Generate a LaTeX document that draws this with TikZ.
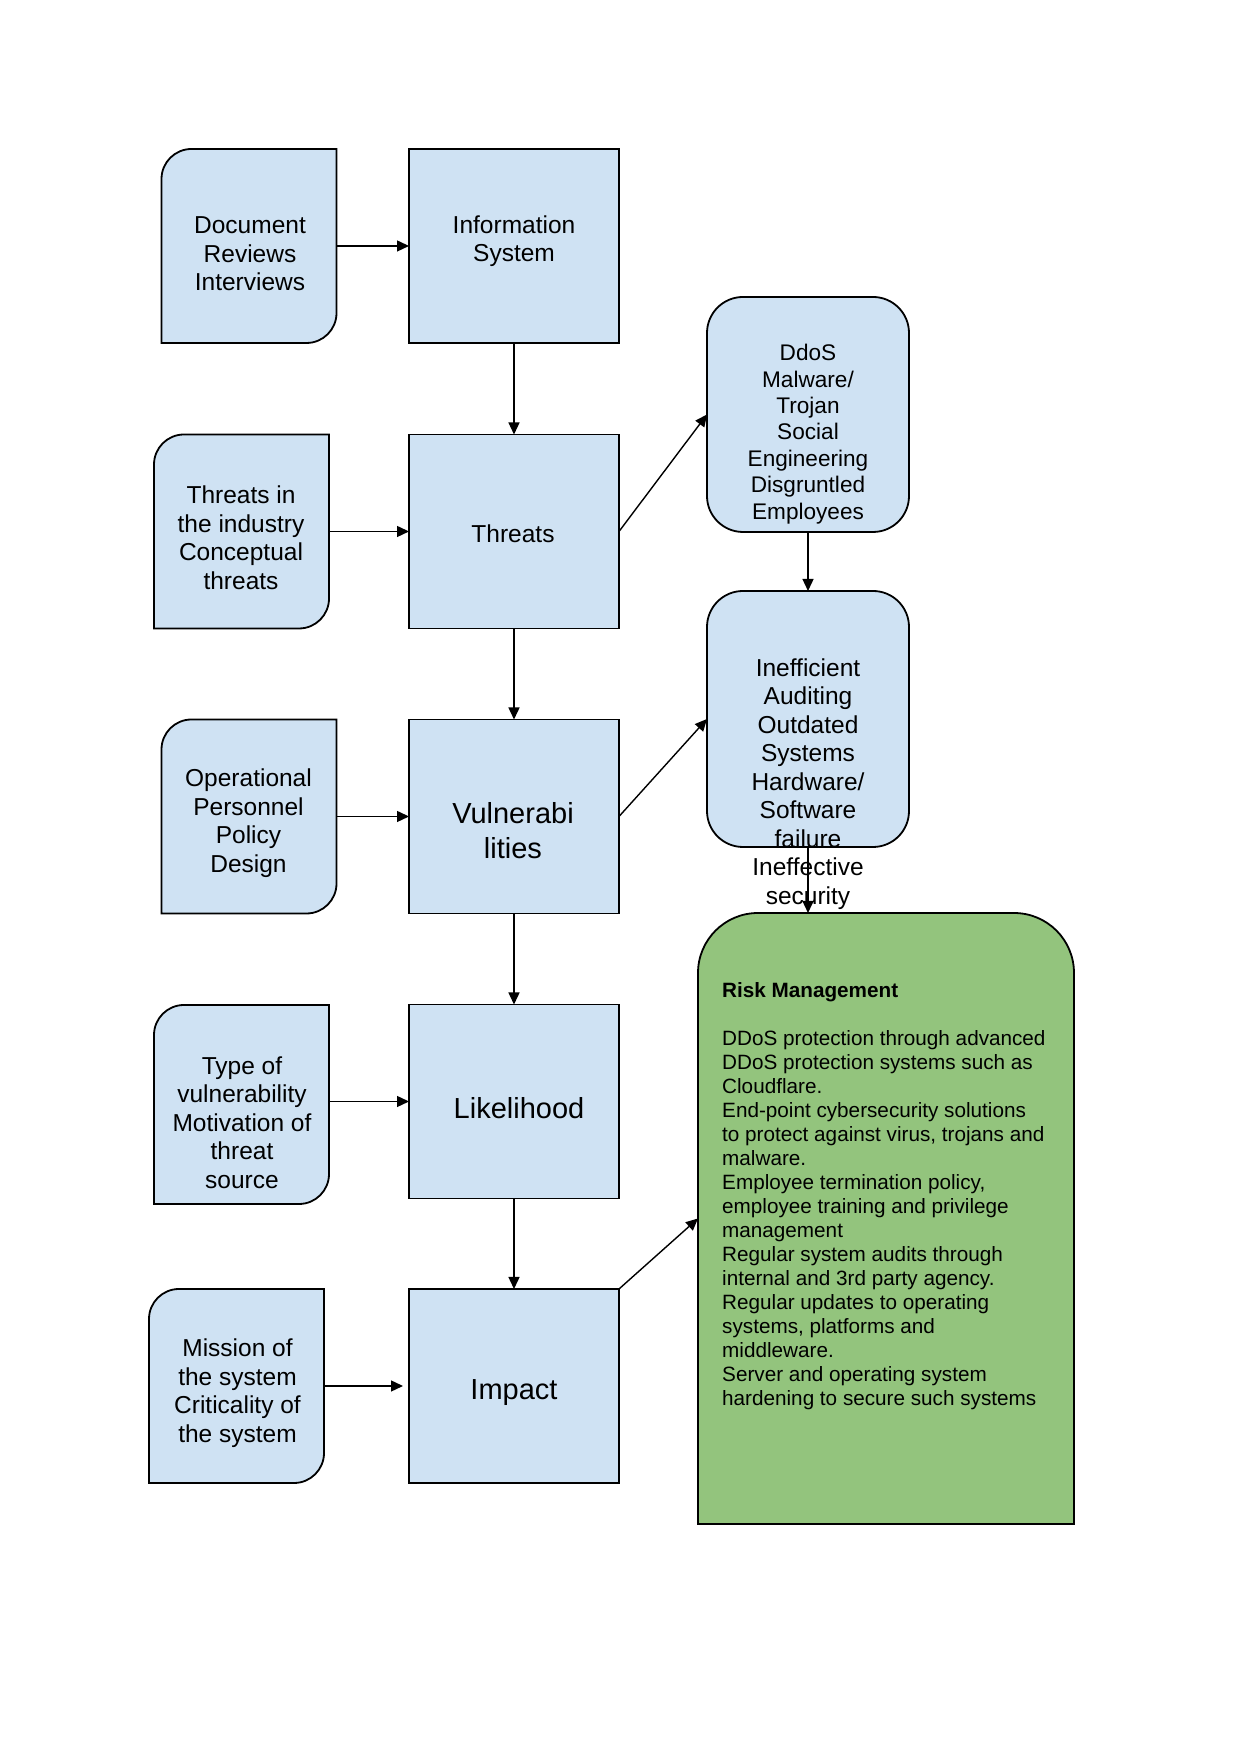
\documentclass[tikz,border=0pt]{standalone}
\usepackage{fontspec}
\setmainfont{Liberation Sans}
\usetikzlibrary{arrows.meta, positioning}
\definecolor{boxblue}{RGB}{207,226,243}
\definecolor{riskgreen}{RGB}{147,196,125}

\begin{document}
\begin{tikzpicture}[x=1pt, y=1pt,
    box/.style={draw, line width=1.8pt, fill=boxblue, minimum width=210pt, minimum height=194pt, outer sep=0pt},
    tab/.style={minimum width=175pt, minimum height=194pt, outer sep=0pt, inner sep=0pt},
    tabline/.style={draw, line width=1.8pt, fill=boxblue},
    txt/.style={align=center, inner sep=0pt, font=\fontsize{24.5}{28.5}\selectfont},
    bigtxt/.style={align=center, inner sep=0pt, font=\fontsize{29}{34.5}\selectfont},
    link/.style={-{Triangle[length=12pt, width=11pt]}, line width=1.4pt}]
    \useasboundingbox (0,0) rectangle (1241,1754);

    % main column
    \node[box] (info) at (514,1508) {};
    \node[box] (threats) at (514,1222.5) {};
    \node[box] (vuln) at (514,937.5) {};
    \node[box] (likely) at (514,652.5) {};
    \node[box] (impact) at (514,368) {};

    % input boxes on the left (round top left and bottom right corner)
    \node[tab] (doc) at (249,1508) {};
    \node[tab] (ind) at (241.5,1222.5) {};
    \node[tab] (oper) at (249,937.5) {};
    \node[tab, minimum height=199pt] (type) at (241.5,649.5) {};
    \node[tab] (miss) at (236.5,368) {};
    \foreach \n in {doc,ind,oper,type,miss}
        \path[tabline] (\n.north east) -- ([xshift=30pt]\n.north west) arc[start angle=90, end angle=180, radius=30pt]
            -- (\n.south west) -- ([xshift=-30pt]\n.south east) arc[start angle=270, end angle=360, radius=30pt] -- cycle;

    % right column
    \node[box, rounded corners=36pt, minimum width=202pt, minimum height=235pt] (ddos) at (808,1339.5) {};
    \node[box, rounded corners=36pt, minimum width=202pt, minimum height=256pt] (ineff) at (808,1035) {};
    \node[tab, minimum width=376pt, minimum height=611pt] (risk) at (886,535.5) {};
    \path[draw, line width=1.8pt, fill=riskgreen] (risk.south west) -- ([yshift=-60pt]risk.north west)
        arc[start angle=180, end angle=90, radius=60pt] -- ([xshift=-60pt]risk.north east)
        arc[start angle=90, end angle=0, radius=60pt] -- (risk.south east) -- cycle;

    % texts
    \node[txt] (doc-t) at (250,1500) {Document\\Reviews\\Interviews};
    \node[txt] (ind-t) at (241,1216) {Threats in\\the industry\\Conceptual\\threats};
    \node[txt] (oper-t) at (248.5,931) {Operational\\Personnel\\Policy\\Design};
    \node[txt] (type-t) at (242,631.5) {Type of\\vulnerability\\Motivation of\\threat\\source};
    \node[txt] (miss-t) at (237.5,361) {Mission of\\the system\\Criticality of\\the system};
    \node[txt] (info-t) at (514,1513) {Information\\System};
    \node[txt] (threats-t) at (513,1220) {Threats};
    \node[bigtxt] (vuln-t) at (513,923.5) {Vulnerabi\\lities};
    \node[bigtxt] (likely-t) at (519,646) {Likelihood};
    \node[bigtxt] (impact-t) at (514,361) {Impact};
    \node[txt, font=\fontsize{22.6}{26.4}\selectfont] (ddos-t) at (808,1320)
        {DdoS\\Malware/\\Trojan\\Social\\Engineering\\Disgruntled\\Employees};
    \node[txt] (ineff-t) at (808,970.3)
        {Inefficient\\Auditing\\Outdated\\Systems\\Hardware/\\Software\\failure\\Ineffective\\security};
    \node[anchor=north west, align=left, inner sep=0pt, font=\fontsize{20.7}{24}\selectfont] (risk-t) at (722,771.5)
        {\textbf{Risk Management}\\[24pt]
        DDoS protection through advanced\\
        DDoS protection systems such as\\
        Cloudflare.\\
        End-point cybersecurity solutions\\
        to protect against virus, trojans and\\
        malware.\\
        Employee termination policy,\\
        employee training and privilege\\
        management\\
        Regular system audits through\\
        internal and 3rd party agency.\\
        Regular updates to operating\\
        systems, platforms and\\
        middleware.\\
        Server and operating system\\
        hardening to secure such systems};

    % connectors
    \draw[link] (doc) -- (info);
    \draw[link] (ind) -- (threats);
    \draw[link] (oper) -- (vuln);
    \draw[link] (type.east |- likely.west) -- (likely.west);
    \draw[link] (miss.east) -- ([xshift=-6pt]impact.west);
    \draw[link] (info) -- (threats);
    \draw[link] (threats) -- (vuln);
    \draw[link] (vuln) -- (likely);
    \draw[link] (likely) -- (impact);
    \draw[link] (threats.east) -- (ddos.west);
    \draw[link] (vuln.east) -- (ineff.west);
    \draw[link] (ddos) -- (ineff);
    \draw[link] (ineff.south) -- (ineff.south |- risk.north);
    \draw[link] (impact.north east) -- (risk.west);
\end{tikzpicture}
\end{document}
